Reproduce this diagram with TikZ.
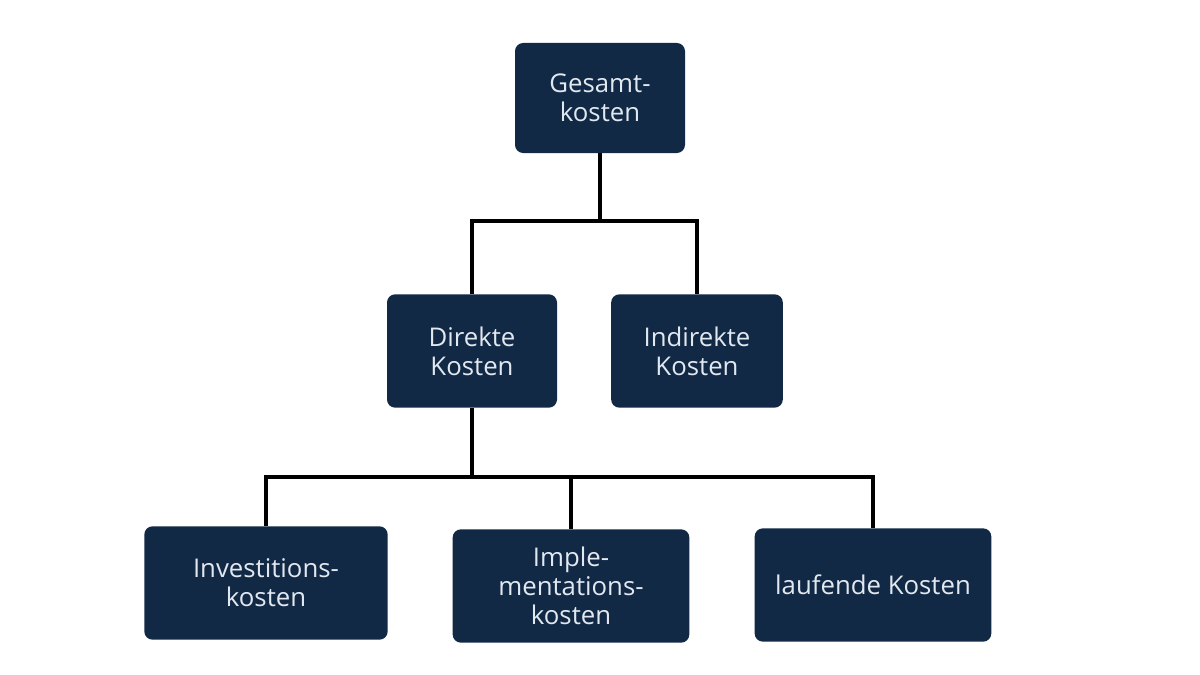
\documentclass[tikz,border=0pt]{standalone}
\usepackage{fontspec}
\setmainfont{Open Sans}
\usepackage{tikz}
\usetikzlibrary{positioning}

\definecolor{navy}{RGB}{17,41,69}
\definecolor{boxtext}{RGB}{226,232,240}

\begin{document}
\begin{tikzpicture}[x=0.03cm, y=-0.03cm,
    kbox/.style={draw=none, fill=navy, rounded corners=7pt, text=boxtext,
      align=center, minimum height=3.4cm, inner sep=0pt,
      font=\fontsize{22}{24.5}\selectfont},
    link/.style={line width=3pt, black}]
      \useasboundingbox (0,0) rectangle (1200,675);
      \node[kbox, minimum width=5.1cm, minimum height=3.3cm] (gesamt) at (600,98) {Gesamt-\\kosten};
      \node[kbox, minimum width=5.1cm] (direkt) at (472,351) {Direkte\\Kosten};
      \node[kbox, minimum width=5.15cm] (indirekt) at (697,351) {Indirekte\\Kosten};
      \node[kbox, minimum width=7.3cm] (invest) at (266,583) {Investitions-\\kosten};
      \node[kbox, minimum width=7.1cm] (impl) at (571,586) {Imple-\\mentations-\\kosten};
      \node[kbox, minimum width=7.1cm] (laufend) at (873,585) {laufende Kosten};
      % Verzweigungen
      \coordinate (split1) at (600,221);
      \coordinate (split2) at (472,477);
      \draw[link] (gesamt.south) -- (split1);
      \draw[link] (split1) -| (direkt.north)
      (split1) -| (indirekt.north);
      \draw[link] (direkt.south) -- (split2);
      \draw[link] (split2) -| (invest.north)
      (split2) -| (impl.north)
      (split2) -| (laufend.north);
    \end{tikzpicture}
\end{document}
